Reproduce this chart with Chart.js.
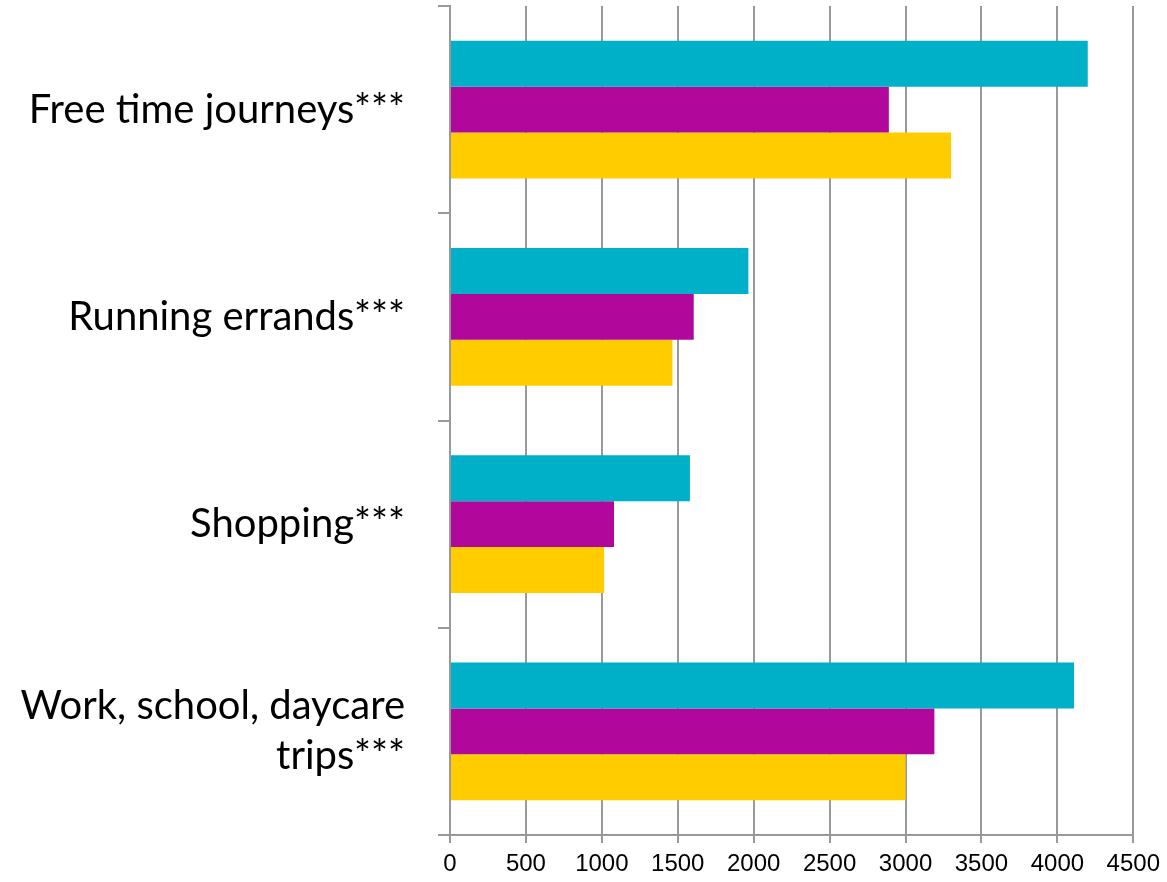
<!DOCTYPE html>
<html>
<head>
<meta charset="utf-8">
<script src="https://cdn.jsdelivr.net/npm/chart.js@4"></script>
<style>
  html, body { margin: 0; padding: 0; background: #fff; }
  #wrap { width: 1167px; height: 882px; }
</style>
</head>
<body>
<div id="wrap"><canvas id="chart"></canvas></div>
<script>
// Categories, top to bottom
const categories = [
    'Free time journeys***',
    'Running errands***',
    'Shopping***',
    ['Work, school, daycare', 'trips***']
];

// Series values
const cyanValues = [4200, 1965, 1580, 4110];
const magentaValues = [2890, 1605, 1080, 3190];
const yellowValues = [3300, 1465, 1015, 3000];

// Axis ticks
const xMin = 0;
const xMax = 4500;
const xStep = 500;

const gridColor = '#999999';

const ctx = document.getElementById('chart').getContext('2d');
new Chart(ctx, {
    type: 'bar',
    data: {
        labels: categories,
        datasets: [
            { label: 'A', data: cyanValues, backgroundColor: '#00AFC8' },
            { label: 'B', data: magentaValues, backgroundColor: '#B1079B' },
            { label: 'C', data: yellowValues, backgroundColor: '#FFCC00' }
        ]
    },
    options: {
        indexAxis: 'y',
        responsive: true,
        maintainAspectRatio: false,
        animation: false,
        datasets: {
            bar: { categoryPercentage: 0.665, barPercentage: 1.0 }
        },
        layout: { padding: { top: 6, right: 33, left: 0, bottom: 0 } },
        plugins: {
            legend: { display: false },
            tooltip: { enabled: false }
        },
        scales: {
            x: {
                min: xMin,
                max: xMax,
                ticks: {
                    stepSize: xStep,
                    color: '#000',
                    font: { family: 'Liberation Sans', size: 24 },
                    padding: 7,
                    maxRotation: 0,
                    callback: function(value) { return String(value); }
                },
                grid: {
                    color: gridColor,
                    lineWidth: 2,
                    tickLength: 8
                },
                border: { color: gridColor, width: 2 },
                afterFit: function(scale) { scale.height = 47; }
            },
            y: {
                ticks: {
                    color: '#000',
                    font: { family: 'Lato', size: 40, lineHeight: 1.25 },
                    padding: 33,
                    crossAlign: 'near'
                },
                grid: {
                    offset: true,
                    drawOnChartArea: false,
                    color: gridColor,
                    lineWidth: 2,
                    tickLength: 12
                },
                border: { color: gridColor, width: 2 },
                afterFit: function(scale) {
                    scale.width = 450;
                    scale.paddingTop = 0;
                    scale.paddingBottom = 0;
                }
            }
        }
    }
});
</script>
</body>
</html>
